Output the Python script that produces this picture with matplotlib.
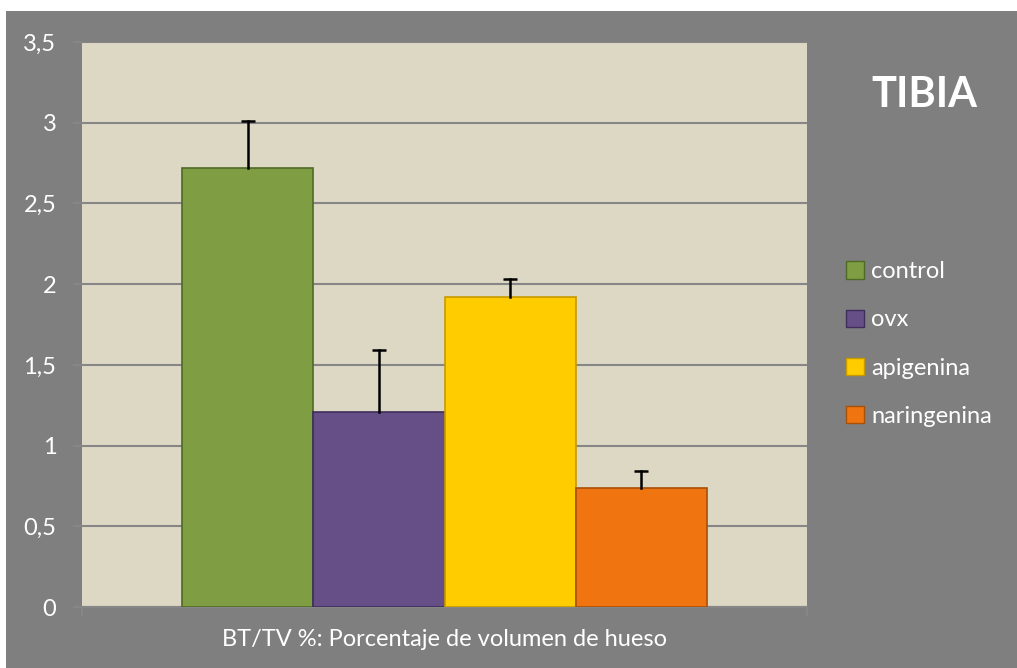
import matplotlib
matplotlib.use('Agg')
import matplotlib.pyplot as plt
from matplotlib.patches import Rectangle, Patch
import numpy as np

plt.rcParams['font.family'] = ['Lato', 'DejaVu Sans']

series = ['control', 'ovx', 'apigenina', 'naringenina']
values = [2.72, 1.21, 1.92, 0.74]
errors = [0.29, 0.38, 0.11, 0.10]
colors = ['#7f9e43', '#664f87', '#ffcc00', '#f07510']
edges = ['#4f6a24', '#3f2d5c', '#c79a00', '#a84f08']
yticks = [0, 0.5, 1, 1.5, 2, 2.5, 3, 3.5]
ytick_labels = ['0', '0,5', '1', '1,5', '2', '2,5', '3', '3,5']

W, H = 1017, 668
fig = plt.figure(figsize=(W / 100, H / 100), dpi=100)
fig.patch.set_facecolor('white')
fig.patches.append(Rectangle((6 / W, 0), 1, (H - 11) / H, transform=fig.transFigure,
                             facecolor='#7f7f7f', edgecolor='none', zorder=-5))

ax = fig.add_axes([82 / W, (H - 607) / H, 725 / W, 565 / H])
ax.set_facecolor('#ddd8c4')

width = 0.1807
index = np.arange(len(series))
offsets = (index - (len(series) - 1) / 2) * width
for x, v, e, c, ec, name in zip(offsets, values, errors, colors, edges, series):
    ax.bar(x, v, width, color=c, edgecolor=ec, linewidth=1.2, zorder=3, label=name)
    # upper error only: stem plus a single cap
    ax.plot([x, x], [v, v + e], color='black', linewidth=1.8, zorder=4)
    ax.plot(x, v + e, marker='_', markersize=10, markeredgewidth=1.8, color='black', zorder=4)

ax.set_xlim(-0.5, 0.5)
ax.set_ylim(0, 3.5)
ax.set_yticks(yticks)
ax.set_yticklabels(ytick_labels)
ax.yaxis.grid(True, color='#868686', linewidth=1.5, zorder=1)
ax.set_axisbelow(True)
ax.set_xticks([-0.5, 0.5])
ax.set_xticklabels(['', ''])
ax.tick_params(axis='y', colors='#868686', labelcolor='white', labelsize=17, length=6.5, width=1.5, pad=12)
ax.tick_params(axis='x', colors='#868686', length=6.5, width=1.5)
for s in ['top', 'right', 'left']:
    ax.spines[s].set_visible(False)
ax.spines['bottom'].set_color('#868686')
ax.spines['bottom'].set_linewidth(1.5)

ax.set_xlabel('BT/TV %: Porcentaje de volumen de hueso', color='white', fontsize=17, labelpad=6)

handles = [Patch(facecolor=c, edgecolor=ec, label=n) for c, ec, n in zip(colors, edges, series)]
leg = fig.legend(handles=handles, loc='center left', bbox_to_anchor=(825 / W, 1 - 344 / H),
                 frameon=False, fontsize=17, labelspacing=1.15, handlelength=0.75,
                 handleheight=0.75, handletextpad=0.3)
for t in leg.get_texts():
    t.set_color('white')

fig.text(924 / W, 1 - 95 / H, 'TIBIA', color='white', fontsize=30, fontweight='bold',
         ha='center', va='center')

fig.savefig('out.png', dpi=100)
